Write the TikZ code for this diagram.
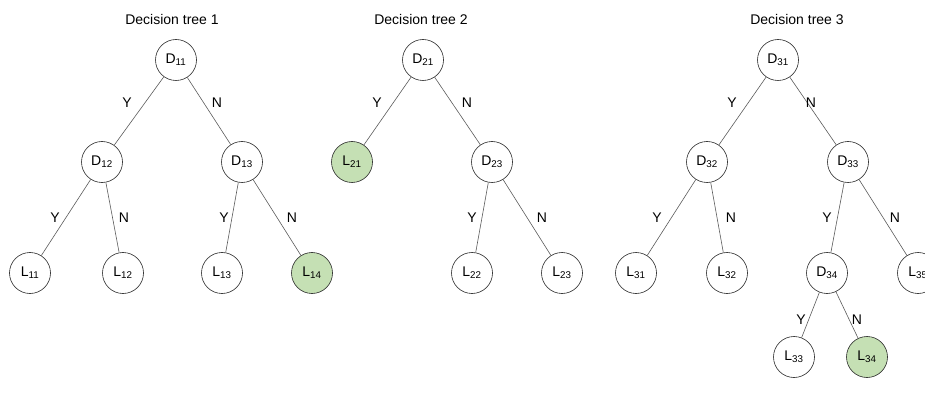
\documentclass[tikz,border=0pt]{standalone}
\usepackage{fontspec}
\setmainfont{Liberation Sans}
\definecolor{leafgreen}{RGB}{197,224,180}
\definecolor{edgegray}{RGB}{90,90,90}
\begin{document}
\begin{tikzpicture}[x=1pt,y=-1pt,
  every node/.style={font=\fontsize{14}{16}\selectfont},
  tn/.style={circle, draw=black!85, line width=0.6pt, minimum size=41pt, inner sep=0pt, fill=white},
  leaf/.style={tn, fill=leafgreen},
  br/.style={draw=edgegray, line width=0.6pt},
  yn/.style={inner sep=0pt},
  ttl/.style={inner sep=0pt}]
\useasboundingbox (0,0) rectangle (925,395);

% ---- Decision tree 1 ----
\node[ttl] (t1) at (172,19) {Decision tree 1};
\node[tn] (D11) at (176,60) {D\textsubscript{11}};
\node[tn] (D12) at (102,162) {D\textsubscript{12}};
\node[tn] (D13) at (242,162) {D\textsubscript{13}};
\node[tn] (L11) at (30,273) {L\textsubscript{11}};
\node[tn] (L12) at (123,273) {L\textsubscript{12}};
\node[tn] (L13) at (222,273) {L\textsubscript{13}};
\node[leaf] (L14) at (312,273) {L\textsubscript{14}};
\draw[br] (D11) -- (D12);
\draw[br] (D11) -- (D13);
\draw[br] (D12) -- (L11);
\draw[br] (D12) -- (L12);
\draw[br] (D13) -- (L13);
\draw[br] (D13) -- (L14);
\node[yn] (y11) at (127,103) {Y};
\node[yn] (n11) at (217,103) {N};
\node[yn] (y12) at (55,218) {Y};
\node[yn] (n12) at (124,218) {N};
\node[yn] (y13) at (224,218) {Y};
\node[yn] (n13) at (292,218) {N};

% ---- Decision tree 2 ----
\node[ttl] (t2) at (421,19) {Decision tree 2};
\node[tn] (D21) at (423,60) {D\textsubscript{21}};
\node[leaf] (L21) at (352,162) {L\textsubscript{21}};
\node[tn] (D23) at (492,162) {D\textsubscript{23}};
\node[tn] (L22) at (472,273) {L\textsubscript{22}};
\node[tn] (L23) at (562,273) {L\textsubscript{23}};
\draw[br] (D21) -- (L21);
\draw[br] (D21) -- (D23);
\draw[br] (D23) -- (L22);
\draw[br] (D23) -- (L23);
\node[yn] (y21) at (377,103) {Y};
\node[yn] (n21) at (467,103) {N};
\node[yn] (y23) at (472,218) {Y};
\node[yn] (n23) at (542,218) {N};

% ---- Decision tree 3 ----
\node[ttl] (t3) at (797,19) {Decision tree 3};
\node[tn] (D31) at (778,60) {D\textsubscript{31}};
\node[tn] (D32) at (707,162) {D\textsubscript{32}};
\node[tn] (D33) at (848,162) {D\textsubscript{33}};
\node[tn] (L31) at (636,273) {L\textsubscript{31}};
\node[tn] (L32) at (727,273) {L\textsubscript{32}};
\node[tn] (D34) at (827,273) {D\textsubscript{34}};
\node[tn] (L35) at (918,273) {L\textsubscript{35}};
\node[tn] (L33) at (794,357) {L\textsubscript{33}};
\node[leaf] (L34) at (867,357) {L\textsubscript{34}};
\draw[br] (D31) -- (D32);
\draw[br] (D31) -- (D33);
\draw[br] (D32) -- (L31);
\draw[br] (D32) -- (L32);
\draw[br] (D33) -- (D34);
\draw[br] (D33) -- (L35);
\draw[br] (D34) -- (L33);
\draw[br] (D34) -- (L34);
\node[yn] (y31) at (732,103) {Y};
\node[yn] (n31) at (811,103) {N};
\node[yn] (y32) at (657,218) {Y};
\node[yn] (n32) at (731,218) {N};
\node[yn] (y33) at (827,218) {Y};
\node[yn] (n33) at (895,218) {N};
\node[yn] (y34) at (801,320) {Y};
\node[yn] (n34) at (857,320) {N};
\end{tikzpicture}
\end{document}
